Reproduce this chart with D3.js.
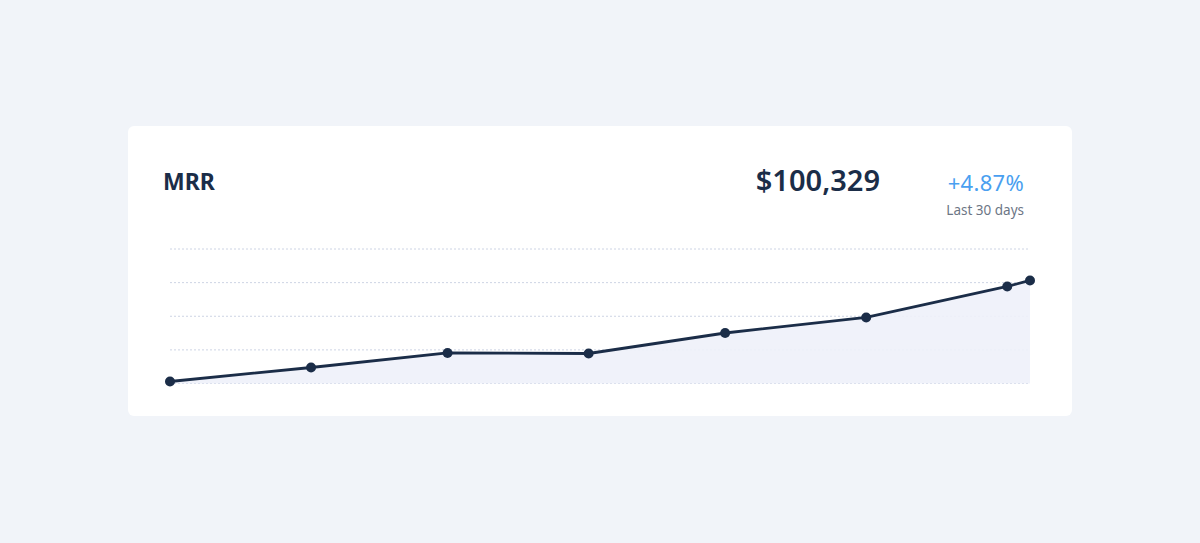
<!DOCTYPE html>
<html>
<head>
<meta charset="utf-8">
<script src="https://cdn.jsdelivr.net/npm/d3@7"></script>
<style>
    html, body { margin: 0; padding: 0; background: #f1f4f9; }
    svg { display: block; }
    text { font-family: "Source Sans Pro", "Noto Sans", "Open Sans", sans-serif; }
</style>
</head>
<body>
<svg id="chart"></svg>
<script>
// MRR series (monthly snapshots plus today)
const dates = ['2023-03-01', '2023-04-01', '2023-05-01', '2023-06-01',
               '2023-07-01', '2023-08-01', '2023-09-01', '2023-09-06'];
const mrrValues = [85300, 87380, 89540, 89460, 92510, 94820, 99430, 100329];
const gridTicks = [85000, 90000, 95000, 100000, 105000];

const headline = '$100,329';
const change = '+4.87%';
const period = 'Last 30 days';

const width = 1200;
const height = 543;

const svg = d3.select('#chart')
    .attr('width', width)
    .attr('height', height);

// Card
const card = { x: 128, y: 126, w: 944, h: 290 };
svg.append('rect')
    .attr('x', card.x)
    .attr('y', card.y)
    .attr('width', card.w)
    .attr('height', card.h)
    .attr('rx', 6)
    .attr('fill', '#ffffff');

// Header texts
svg.append('text')
    .attr('x', 163)
    .attr('y', 190)
    .attr('fill', '#1b2d48')
    .style('font-size', '23px')
    .style('font-weight', 700)
    .text('MRR');

svg.append('text')
    .attr('x', 880)
    .attr('y', 191)
    .attr('text-anchor', 'end')
    .attr('fill', '#1b2d48')
    .style('font-size', '29px')
    .style('font-weight', 600)
    .text(headline);

svg.append('text')
    .attr('x', 1024)
    .attr('y', 191)
    .attr('text-anchor', 'end')
    .attr('fill', '#4a9ff0')
    .style('font-size', '22px')
    .style('letter-spacing', '0.3px')
    .text(change);

svg.append('text')
    .attr('x', 1024)
    .attr('y', 215)
    .attr('text-anchor', 'end')
    .attr('fill', '#6c7685')
    .style('font-size', '13.5px')
    .text(period);

// Scales
const parse = d3.timeParse('%Y-%m-%d');
const data = dates.map((d, i) => ({ date: parse(d), value: mrrValues[i] }));

const x = d3.scaleTime()
    .domain(d3.extent(data, d => d.date))
    .range([170, 1030]);

const y = d3.scaleLinear()
    .domain([d3.min(gridTicks), d3.max(gridTicks)])
    .range([383.5, 249]);

// Dotted gridlines
svg.append('g')
    .selectAll('line')
    .data(gridTicks)
    .join('line')
    .attr('x1', 170)
    .attr('x2', 1030)
    .attr('y1', d => y(d))
    .attr('y2', d => y(d))
    .attr('stroke', '#cdd4e4')
    .attr('stroke-width', 1)
    .attr('stroke-dasharray', '2,2');

// Area fill
const area = d3.area()
    .x(d => x(d.date))
    .y0(y(gridTicks[0]))
    .y1(d => y(d.value));

svg.append('path')
    .datum(data)
    .attr('d', area)
    .attr('fill', '#eef1fa')
    .attr('fill-opacity', 0.9);

// Line
const line = d3.line()
    .x(d => x(d.date))
    .y(d => y(d.value));

svg.append('path')
    .datum(data)
    .attr('d', line)
    .attr('fill', 'none')
    .attr('stroke', '#1b2d48')
    .attr('stroke-width', 2.8)
    .attr('stroke-linejoin', 'round');

// Points
svg.append('g')
    .selectAll('circle')
    .data(data)
    .join('circle')
    .attr('cx', d => x(d.date))
    .attr('cy', d => y(d.value))
    .attr('r', 5)
    .attr('fill', '#1b2d48');
</script>
</body>
</html>
